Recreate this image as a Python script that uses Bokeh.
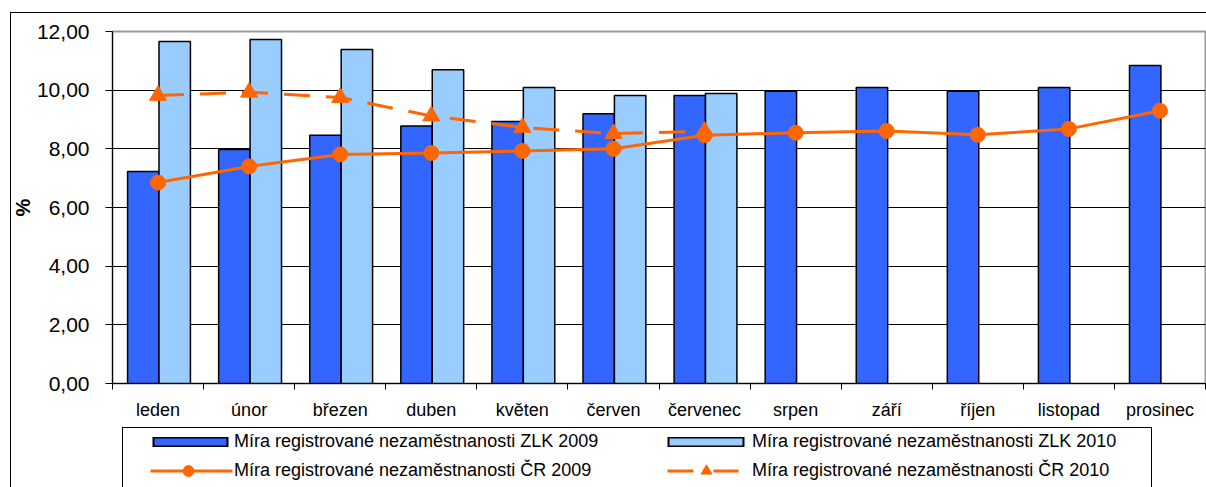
from bokeh.plotting import figure
from bokeh.layouts import column
from bokeh.models import Range1d, FixedTicker, Legend, LegendItem, InlineStyleSheet, Title
from bokeh.embed import file_html
from bokeh.resources import INLINE

months = ["leden", "únor", "březen", "duben", "květen", "červen", "červenec",
          "srpen", "září", "říjen", "listopad", "prosinec"]
zlk_2009 = [7.23, 7.98, 8.46, 8.78, 8.93, 9.20, 9.82, 9.96, 10.09, 9.96, 10.09, 10.84]
zlk_2010 = [11.66, 11.73, 11.39, 10.70, 10.09, 9.82, 9.89]
cr_2009 = [6.85, 7.40, 7.81, 7.86, 7.93, 8.00, 8.46, 8.55, 8.61, 8.48, 8.68, 9.30]
cr_2010 = [9.82, 9.93, 9.75, 9.12, 8.73, 8.52, 8.60]
y_ticks = [0, 2, 4, 6, 8, 10, 12]
y_tick_labels = ["0,00", "2,00", "4,00", "6,00", "8,00", "10,00", "12,00"]
series_labels = ["Míra registrované nezaměstnanosti ZLK 2009",
                 "Míra registrované nezaměstnanosti ZLK 2010",
                 "Míra registrované nezaměstnanosti ČR 2009",
                 "Míra registrované nezaměstnanosti ČR 2010"]
y_label = "%"

FONT = "Liberation Sans"
DARK = "#3366FF"
LIGHT = "#99CCFF"
ORANGE = "#FF6600"
NAN = float("nan")

centers = [i + 0.5 for i in range(len(months))]
bounds = [float(i) for i in range(len(months) + 1)]

p = figure(width=1206, height=427, output_backend="svg", toolbar_location=None,
           title=None, x_range=Range1d(0, 12), y_range=Range1d(0, 12),
           min_border_left=112, min_border_right=1, min_border_top=31,
           min_border_bottom=44)
p.background_fill_color = "white"
p.border_fill_color = "white"
p.outline_line_color = "#999999"
p.outline_line_width = 2

# x axis
p.xaxis.ticker = FixedTicker(ticks=centers, minor_ticks=bounds)
p.xaxis.major_label_overrides = {c: m for c, m in zip(centers, months)}
p.xaxis.major_tick_line_color = None
p.xaxis.major_tick_out = 6
p.xaxis.major_tick_in = 0
p.xaxis.minor_tick_line_color = "black"
p.xaxis.minor_tick_out = 6
p.xaxis.minor_tick_in = 0
p.xaxis.axis_line_color = "black"
p.xaxis.major_label_standoff = 10
p.xaxis.major_label_text_font = FONT
p.xaxis.major_label_text_font_size = "18px"
p.xaxis.major_label_text_color = "black"

# y axis
p.yaxis.ticker = FixedTicker(ticks=y_ticks)
p.yaxis.major_label_overrides = {t: l for t, l in zip(y_ticks, y_tick_labels)}
p.yaxis.major_tick_out = 7
p.yaxis.major_tick_in = 0
p.yaxis.major_tick_line_color = "black"
p.yaxis.minor_tick_line_color = None
p.yaxis.axis_line_color = "black"
p.yaxis.major_label_standoff = 16
p.yaxis.major_label_text_font = FONT
p.yaxis.major_label_text_font_size = "21px"
p.yaxis.major_label_text_color = "black"

# "%" as a left-side title right next to the tick labels
p.add_layout(Title(text=y_label, align="center", text_font=FONT,
                   text_font_size="20px", text_font_style="bold",
                   text_color="black", standoff=0, offset=0), "left")

p.xgrid.visible = False
p.ygrid.ticker = FixedTicker(ticks=y_ticks[1:-1])
p.ygrid.grid_line_color = "black"
p.ygrid.grid_line_width = 1

# bars
n10 = len(zlk_2010)
r1 = p.vbar(x=[c - 0.162 for c in centers], top=zlk_2009, width=0.345,
            fill_color=DARK, line_color="black", line_width=1.5)
r2 = p.vbar(x=[c + 0.183 for c in centers[:n10]], top=zlk_2010, width=0.345,
            fill_color=LIGHT, line_color="black", line_width=1.5)

# lines
r3 = p.line(centers, cr_2009, line_color=ORANGE, line_width=3)
r3m = p.scatter(centers, cr_2009, marker="circle", size=15,
                fill_color=ORANGE, line_color=ORANGE)
m10 = len(cr_2010)
r4 = p.line(centers[:m10], cr_2010, line_color=ORANGE, line_width=3,
            line_dash="26 16")
r4m = p.scatter(centers[:m10], cr_2010, marker="triangle", size=17,
                fill_color=ORANGE, line_color=ORANGE)

# legend strip below the chart (same frame left as the chart so the column aligns)
q = figure(width=1206, height=60, output_backend="svg", toolbar_location=None,
           title=None, x_range=Range1d(0, 1), y_range=Range1d(0, 1),
           x_axis_location=None, y_axis_location=None,
           min_border_left=112, min_border_right=1, min_border_top=0,
           min_border_bottom=0)
q.grid.visible = False
q.outline_line_color = None
q.background_fill_color = "white"
q.border_fill_color = "white"

# sample renderers: they hold no visible point, they only draw the legend samples
k1 = q.line(x=[NAN], y=[NAN], line_color="black", line_width=10, line_dash="0 10 76 1000")
f1 = q.line(x=[NAN], y=[NAN], line_color=DARK, line_width=7, line_dash="0 12 72 1000")
k2 = q.line(x=[NAN], y=[NAN], line_color="black", line_width=10, line_dash="0 7 77 1000")
f2 = q.line(x=[NAN], y=[NAN], line_color=LIGHT, line_width=7, line_dash="0 9 73 1000")
l3 = q.line(x=[NAN], y=[NAN], line_color=ORANGE, line_width=3, line_dash="0 8 82 1000")
m3 = q.scatter(x=[NAN], y=[NAN], marker="circle", fill_color=ORANGE, line_color=ORANGE)
l4 = q.line(x=[NAN], y=[NAN], line_color=ORANGE, line_width=3,
            line_dash="0 7 26 20 25 1000")
m4 = q.scatter(x=[NAN], y=[NAN], marker="triangle", fill_color=ORANGE, line_color=ORANGE)

legend = Legend(
    items=[LegendItem(label=series_labels[0], renderers=[k1, f1]),
           LegendItem(label=series_labels[1], renderers=[k2, f2]),
           LegendItem(label=series_labels[2], renderers=[l3, m3]),
           LegendItem(label=series_labels[3], renderers=[l4, m4])],
    orientation="horizontal", ncols=2, nrows=2,
    location=(30, 3), glyph_width=92, glyph_height=27, label_standoff=0,
    label_width=424, label_height=20, spacing=2, padding=0, margin=0,
    label_text_font=FONT, label_text_font_size="18px", label_text_color="black",
    border_line_color=None, background_fill_alpha=0)
q.add_layout(legend, "center")

layout = column(p, q, spacing=0)
layout.stylesheets = [InlineStyleSheet(css=(
    ":host::after {content: ''; position: absolute; left: 10px; top: 12px; "
    "width: 1196px; height: 475px; border-left: 1px solid black; "
    "border-top: 1px solid black; pointer-events: none; box-sizing: border-box;}"
    ":host::before {content: ''; position: absolute; left: 122px; top: 427px; "
    "width: 1030px; height: 60px; border-left: 1px solid black; "
    "border-top: 1px solid black; border-right: 1px solid black; "
    "pointer-events: none; box-sizing: border-box; z-index: 1;}"))]

open("out.html", "w").write(file_html(layout, INLINE))
